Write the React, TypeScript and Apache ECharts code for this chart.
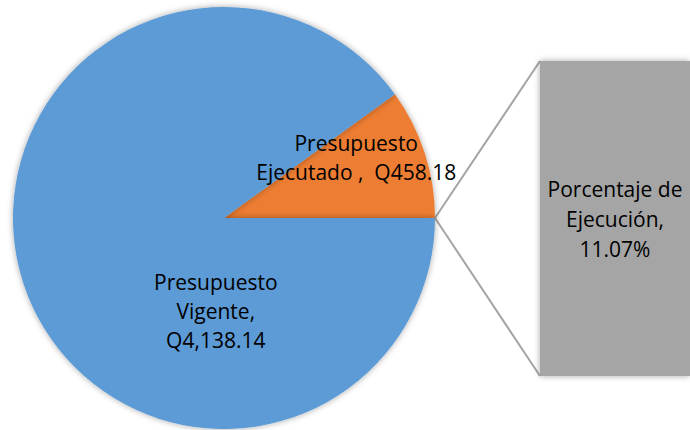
import React, { useEffect, useRef } from "react";
import * as echarts from "echarts";

const sliceNames = ["Presupuesto\nEjecutado ,  Q458.18", "Presupuesto\nVigente,\nQ4,138.14"];
const sliceValues = [458.18, 4138.14];
const sliceColors = ["#ED7D31", "#5B9BD5"];
const barName = "Porcentaje de\nEjecución,";
const barValues = [11.07];

const CX = 224;
const CY = 218;
const R = 211;
const BAR_LEFT = 540;
const BAR_TOP = 61;
const BAR_H = 315;

export default function App() {
  const ref = useRef<HTMLDivElement>(null);
  useEffect(() => {
    if (!ref.current) return;
    const chart = echarts.init(ref.current, null, { renderer: "svg" });
    const total = sliceValues[0] + sliceValues[1];
    const startAngle = (360 * sliceValues[0]) / total;
    const font = "'Open Sans', 'Noto Sans', sans-serif";
    chart.setOption({
      animation: false,
      backgroundColor: "#ffffff",
      grid: { left: BAR_LEFT, top: BAR_TOP, width: 160, height: BAR_H },
      xAxis: { type: "category", data: ["p"], show: false },
      yAxis: { type: "value", min: 0, max: barValues[0], show: false },
      series: [
        {
          type: "pie",
          center: [CX, CY],
          radius: R,
          startAngle,
          clockwise: true,
          silent: true,
          data: sliceValues.map((v, i) => ({
            name: sliceNames[i],
            value: v,
            itemStyle: { color: sliceColors[i] },
          })),
          itemStyle: { shadowBlur: 6, shadowColor: "rgba(0,0,0,0.35)" },
          label: {
            show: true,
            position: "inside",
            formatter: "{b}",
            color: "#000",
            fontSize: 21,
            lineHeight: 29,
            fontFamily: font,
            align: "center",
          },
          labelLine: { show: false },
          labelLayout: (p: any) =>
            p.dataIndex === 0 ? { dx: 29, dy: -27 } : { dx: 95, dy: 60 },
        },
        {
          type: "bar",
          data: barValues,
          barWidth: "100%",
          silent: true,
          itemStyle: { color: "#A5A5A5", shadowBlur: 6, shadowColor: "rgba(0,0,0,0.35)" },
          label: {
            show: true,
            position: "inside",
            formatter: (p: any) => barName + "\n" + p.value.toFixed(2) + "%",
            color: "#000",
            fontSize: 21,
            lineHeight: 30,
            fontFamily: font,
            align: "center",
          },
        },
      ],
      graphic: [
        {
          type: "line",
          shape: { x1: CX + R, y1: CY, x2: BAR_LEFT, y2: BAR_TOP },
          style: { stroke: "#A5A5A5", lineWidth: 2 },
        },
        {
          type: "line",
          shape: { x1: CX + R, y1: CY, x2: BAR_LEFT, y2: BAR_TOP + BAR_H },
          style: { stroke: "#A5A5A5", lineWidth: 2 },
        },
      ],
    });
    return () => chart.dispose();
  }, []);
  return (
    <div
      ref={ref}
      style={{ position: "fixed", left: 0, top: 0, width: 690, height: 430 }}
    />
  );
}
